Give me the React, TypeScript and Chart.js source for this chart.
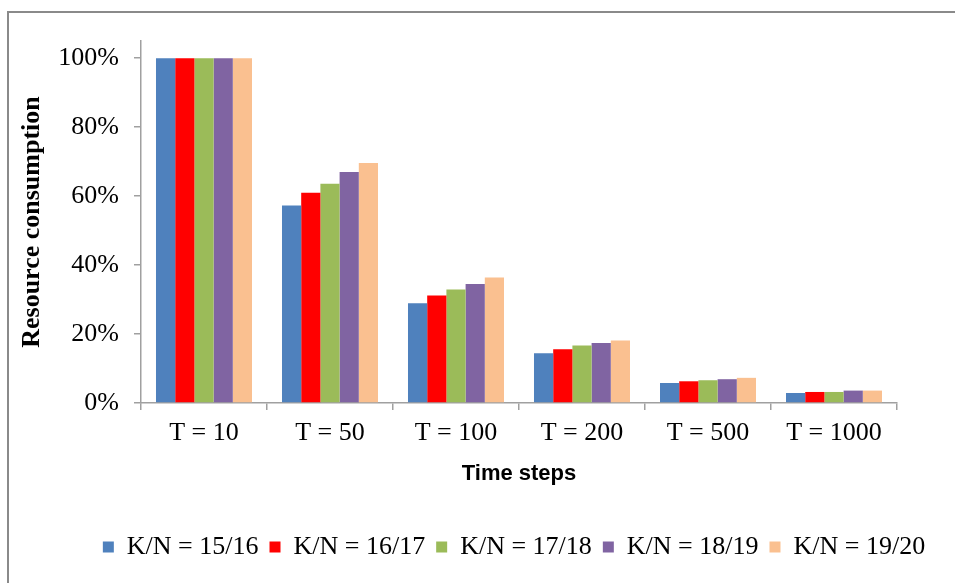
import React, { useEffect, useRef } from "react";
import { Chart, registerables } from "chart.js";

Chart.register(...registerables);

const categories = ["T = 10", "T = 50", "T = 100", "T = 200", "T = 500", "T = 1000"];
const seriesNames = ["K/N = 15/16", "K/N = 16/17", "K/N = 17/18", "K/N = 18/19", "K/N = 19/20"];
const kn1516 = [100, 57.3, 28.9, 14.4, 5.8, 2.9];
const kn1617 = [100, 61.0, 31.2, 15.6, 6.3, 3.2];
const kn1718 = [100, 63.6, 32.9, 16.7, 6.6, 3.2];
const kn1819 = [100, 67.0, 34.5, 17.4, 6.9, 3.6];
const kn1920 = [100, 69.6, 36.4, 18.1, 7.3, 3.6];
const yTicks = [0, 20, 40, 60, 80, 100];
const seriesColors = ["#4F81BD", "#FF0000", "#9BBB59", "#8064A2", "#FAC090"];

const AXIS_GRAY = "#A0A0A0";
const SERIF = "'Liberation Serif', 'Times New Roman', serif";

const framePlugin = {
  id: "frame",
  beforeDraw(chart: any) {
    const ctx = chart.ctx;
    ctx.save();
    ctx.fillStyle = "#FFFFFF";
    ctx.fillRect(0, 0, chart.width, chart.height);
    ctx.fillStyle = "#8A8A8A";
    ctx.fillRect(7, 11, chart.width, 2);
    ctx.fillRect(7, 11, 2, chart.height);
    ctx.restore();
  },
};

export default function App() {
  const ref = useRef<HTMLCanvasElement | null>(null);

  useEffect(() => {
    if (!ref.current) return;
    const values = [kn1516, kn1617, kn1718, kn1819, kn1920];
    const chart = new Chart(ref.current, {
      type: "bar",
      data: {
        labels: categories,
        datasets: seriesNames.map((name, i) => ({
          label: name,
          data: values[i],
          backgroundColor: seriesColors[i],
          borderWidth: 0,
          categoryPercentage: 0.762,
          barPercentage: 1.0,
        })),
      },
      plugins: [framePlugin],
      options: {
        animation: false,
        responsive: true,
        maintainAspectRatio: false,
        devicePixelRatio: 1,
        layout: { padding: { left: 8, right: -65, top: 41, bottom: 13 } },
        plugins: {
          tooltip: { enabled: false },
          legend: {
            position: "bottom",
            labels: {
              boxWidth: 11,
              boxHeight: 11,
              padding: 11,
              color: "#000000",
              font: { family: SERIF, size: 26 },
            },
          },
        },
        scales: {
          x: {
            type: "category",
            offset: true,
            grid: {
              display: true,
              offset: true,
              drawOnChartArea: false,
              drawTicks: true,
              tickLength: 7,
              color: AXIS_GRAY,
              lineWidth: 1.5,
            },
            border: { display: true, color: AXIS_GRAY, width: 1.5 },
            ticks: {
              color: "#000000",
              font: { family: SERIF, size: 26 },
              padding: 8,
              maxRotation: 0,
              autoSkip: false,
            },
            title: {
              display: true,
              text: "Time steps",
              color: "#000000",
              font: { family: "'Liberation Sans', Arial, sans-serif", size: 22, weight: "bold" },
              padding: { top: 0, bottom: 36 },
            },
            afterFit: (s: any) => {
              s.height = 120;
            },
          },
          y: {
            type: "linear",
            position: "left",
            min: 0,
            max: 105,
            grid: {
              display: true,
              drawOnChartArea: false,
              drawTicks: true,
              tickLength: 7,
              color: AXIS_GRAY,
              lineWidth: 1.5,
            },
            border: { display: true, color: AXIS_GRAY, width: 1.5 },
            ticks: {
              stepSize: 20,
              color: "#000000",
              font: { family: SERIF, size: 26 },
              padding: 15,
              callback: (v: any) => v + "%",
            },
            afterBuildTicks: (s: any) => {
              s.ticks = yTicks.map((v) => ({ value: v }));
            },
            title: {
              display: true,
              text: "Resource consumption",
              color: "#000000",
              font: { family: SERIF, size: 26, weight: "bold" },
              padding: { top: 9, bottom: 0 },
            },
            afterFit: (s: any) => {
              s.width = 133;
            },
          },
          yRight: {
            type: "linear",
            position: "right",
            display: true,
            grid: { display: false, drawTicks: false },
            border: { display: false },
            ticks: { display: false },
            afterFit: (s: any) => {
              s.width = 123;
            },
          },
        },
      },
    });
    return () => chart.destroy();
  }, []);

  return (
    <div style={{ position: "fixed", left: 0, top: 0, width: 955, height: 583, background: "#fff" }}>
      <canvas ref={ref} />
    </div>
  );
}
